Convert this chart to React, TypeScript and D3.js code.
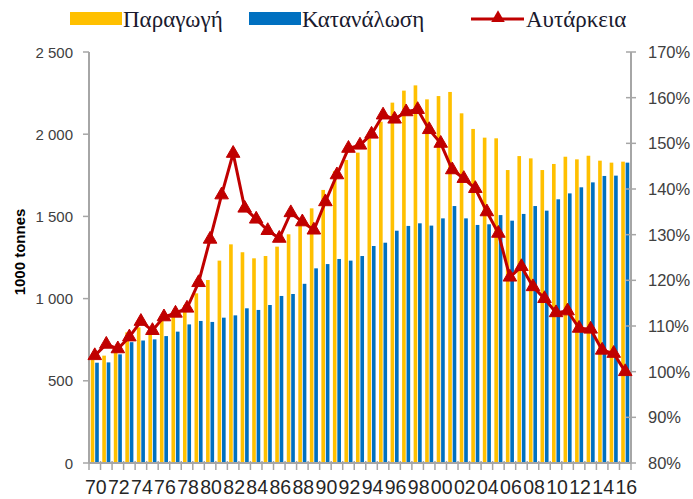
import { useEffect, useRef } from 'react';
import * as d3 from 'd3';

const years = [
  1970, 1971, 1972, 1973, 1974, 1975, 1976, 1977, 1978, 1979,
  1980, 1981, 1982, 1983, 1984, 1985, 1986, 1987, 1988, 1989,
  1990, 1991, 1992, 1993, 1994, 1995, 1996, 1997, 1998, 1999,
  2000, 2001, 2002, 2003, 2004, 2005, 2006, 2007, 2008, 2009,
  2010, 2011, 2012, 2013, 2014, 2015, 2016,
];

// Παραγωγή (1000 tonnes)
const production = [
  627, 653, 690, 795, 825, 815, 865, 900, 960, 1032,
  1113, 1231, 1330, 1282, 1245, 1259, 1316, 1391, 1450, 1549,
  1661, 1775, 1843, 1888, 1975, 2076, 2192, 2265, 2297, 2212,
  2232, 2257, 2127, 2032, 1979, 1975, 1782, 1867, 1853, 1782,
  1819, 1863, 1847, 1869, 1839, 1827, 1833,
];

// Κατανάλωση (1000 tonnes)
const consumption = [
  610, 612, 661, 735, 745, 752, 772, 799, 843, 864,
  858, 884, 898, 941, 931, 961, 1016, 1028, 1090, 1184,
  1210, 1241, 1231, 1259, 1320, 1340, 1413, 1442, 1458, 1444,
  1488, 1563, 1488, 1448, 1452, 1508, 1474, 1515, 1563, 1535,
  1604, 1640, 1677, 1707, 1746, 1748, 1827,
];

// Αυτάρκεια (%)
const selfSufficiency = [
  103.5, 106, 105, 107.6, 111, 109, 112, 112.8, 113.9, 119.5,
  129, 138.7, 147.8, 135.8, 133.4, 130.9, 129.2, 134.8, 132.8, 131,
  137.2, 143.1, 148.9, 149.6, 152, 156.2, 155.3, 156.9, 157.4, 153,
  150, 144.2, 142.3, 140.1, 135, 130.3, 120.7, 123, 118.6, 116,
  112.9, 113.3, 109.5, 109.3, 104.7, 104, 100,
];

const leftTicks = [0, 500, 1000, 1500, 2000, 2500];
const rightTicks = [80, 90, 100, 110, 120, 130, 140, 150, 160, 170];
const xLabelYears = [
  1970, 1972, 1974, 1976, 1978, 1980, 1982, 1984, 1986, 1988, 1990, 1992,
  1994, 1996, 1998, 2000, 2002, 2004, 2006, 2008, 2010, 2012, 2014, 2016,
];

const YELLOW = '#FFC000';
const BLUE = '#0070C0';
const RED = '#C00000';
const AXIS = '#a6a6a6';

export default function App() {
  const svgRef = useRef<SVGSVGElement>(null);

  useEffect(() => {
    if (!svgRef.current) return;
    const svg = d3.select(svgRef.current);
    svg.selectAll('*').remove();

    const left = 89;
    const right = 631;
    const top = 52;
    const bottom = 463;

    const x = d3
      .scaleBand<number>()
      .domain(years)
      .range([left, right])
      .paddingInner(0.3)
      .paddingOuter(0.15);
    const step = x.step();
    const bw = x.bandwidth();
    const barW = bw / 2 - 0.4;

    const y = d3.scaleLinear().domain([0, 2500]).range([bottom, top]);
    const y2 = d3.scaleLinear().domain([80, 170]).range([bottom, top]);

    const g = svg.append('g');

    // bars
    g.selectAll('.prod')
      .data(years)
      .enter()
      .append('rect')
      .attr('x', (d) => x(d)!)
      .attr('y', (d, i) => y(production[i]))
      .attr('width', barW)
      .attr('height', (d, i) => bottom - y(production[i]))
      .attr('fill', YELLOW);

    g.selectAll('.cons')
      .data(years)
      .enter()
      .append('rect')
      .attr('x', (d) => x(d)! + bw - barW)
      .attr('y', (d, i) => y(consumption[i]))
      .attr('width', barW)
      .attr('height', (d, i) => bottom - y(consumption[i]))
      .attr('fill', BLUE);

    // axes lines
    g.append('line')
      .attr('x1', left).attr('x2', left)
      .attr('y1', top).attr('y2', bottom)
      .attr('stroke', AXIS).attr('stroke-width', 2);
    g.append('line')
      .attr('x1', right).attr('x2', right)
      .attr('y1', top).attr('y2', bottom)
      .attr('stroke', AXIS).attr('stroke-width', 2);
    g.append('line')
      .attr('x1', left).attr('x2', right)
      .attr('y1', bottom).attr('y2', bottom)
      .attr('stroke', AXIS).attr('stroke-width', 2);

    // left ticks
    g.selectAll('.lt')
      .data(leftTicks)
      .enter()
      .append('line')
      .attr('x1', left - 6).attr('x2', left)
      .attr('y1', (d) => y(d)).attr('y2', (d) => y(d))
      .attr('stroke', AXIS).attr('stroke-width', 1.5);
    g.selectAll('.ll')
      .data(leftTicks)
      .enter()
      .append('text')
      .attr('x', 73)
      .attr('y', (d) => y(d))
      .attr('text-anchor', 'end')
      .attr('dominant-baseline', 'central')
      .attr('font-family', 'Liberation Sans, Arial, sans-serif')
      .attr('font-size', '15px')
      .attr('fill', '#404040')
      .text((d) => d3.format(',')(d).replace(',', ' '));

    // right ticks
    g.selectAll('.rt')
      .data(rightTicks)
      .enter()
      .append('line')
      .attr('x1', right - 5).attr('x2', right + 5)
      .attr('y1', (d) => y2(d)).attr('y2', (d) => y2(d))
      .attr('stroke', AXIS).attr('stroke-width', 1.5);
    g.selectAll('.rl')
      .data(rightTicks)
      .enter()
      .append('text')
      .attr('x', 648)
      .attr('y', (d) => y2(d))
      .attr('dominant-baseline', 'central')
      .attr('font-family', 'Liberation Sans, Arial, sans-serif')
      .attr('font-size', '16.5px')
      .attr('fill', '#404040')
      .text((d) => `${d}%`);

    // bottom category ticks
    const bounds = years.map((d) => x(d)! - (step - bw) / 2).concat([right]);
    g.selectAll('.bt')
      .data(bounds)
      .enter()
      .append('line')
      .attr('x1', (d) => d).attr('x2', (d) => d)
      .attr('y1', bottom - 2).attr('y2', bottom + 7)
      .attr('stroke', AXIS).attr('stroke-width', 1.5);

    // x labels
    g.selectAll('.xl')
      .data(xLabelYears)
      .enter()
      .append('text')
      .attr('x', (d) => x(d)! + bw / 2 + 1)
      .attr('y', 494)
      .attr('text-anchor', 'middle')
      .attr('font-family', 'Liberation Sans, Arial, sans-serif')
      .attr('font-size', '19.5px')
      .attr('fill', '#262626')
      .text((d) => String(d).slice(2));

    // y title
    g.append('text')
      .attr('transform', 'translate(25, 252) rotate(-90)')
      .attr('text-anchor', 'middle')
      .attr('font-family', 'Liberation Sans, Arial, sans-serif')
      .attr('font-size', '15px')
      .attr('font-weight', 'bold')
      .attr('fill', '#000')
      .text('1000 tonnes');

    // self-sufficiency line
    const line = d3
      .line<number>()
      .x((d, i) => x(years[i])! + bw / 2)
      .y((d) => y2(d));
    g.append('path')
      .datum(selfSufficiency)
      .attr('d', line)
      .attr('fill', 'none')
      .attr('stroke', RED)
      .attr('stroke-width', 3)
      .attr('stroke-linejoin', 'round');

    const tri = d3.symbol().type(d3.symbolTriangle).size(80);
    g.selectAll('.mk')
      .data(selfSufficiency)
      .enter()
      .append('path')
      .attr('d', tri)
      .attr('transform', (d, i) => `translate(${x(years[i])! + bw / 2}, ${y2(d)})`)
      .attr('fill', RED)
      .attr('stroke', RED)
      .attr('stroke-width', 1);

    // legend
    const legend = svg.append('g');
    const legendFont = 'Liberation Serif, Times New Roman, serif';
    legend.append('rect').attr('x', 70).attr('y', 12).attr('width', 52).attr('height', 13).attr('fill', YELLOW);
    legend.append('text').attr('x', 123).attr('y', 27)
      .attr('font-family', legendFont).attr('font-size', '23px').attr('fill', '#1a1a2e')
      .text('Παραγωγή');
    legend.append('rect').attr('x', 249).attr('y', 12).attr('width', 52).attr('height', 13).attr('fill', BLUE);
    legend.append('text').attr('x', 302).attr('y', 27)
      .attr('font-family', legendFont).attr('font-size', '23px').attr('fill', '#1a1a2e')
      .text('Κατανάλωση');
    legend.append('line').attr('x1', 471).attr('x2', 524).attr('y1', 19).attr('y2', 19)
      .attr('stroke', RED).attr('stroke-width', 3);
    legend.append('path').attr('d', tri).attr('transform', 'translate(498, 18)').attr('fill', RED);
    legend.append('text').attr('x', 526).attr('y', 27)
      .attr('font-family', legendFont).attr('font-size', '23px').attr('fill', '#1a1a2e')
      .text('Αυτάρκεια');
  }, []);

  return (
    <div style={{ position: 'absolute', left: 0, top: 0 }}>
      <svg ref={svgRef} width={693} height={499} style={{ display: 'block', background: '#fff' }}></svg>
    </div>
  );
}
